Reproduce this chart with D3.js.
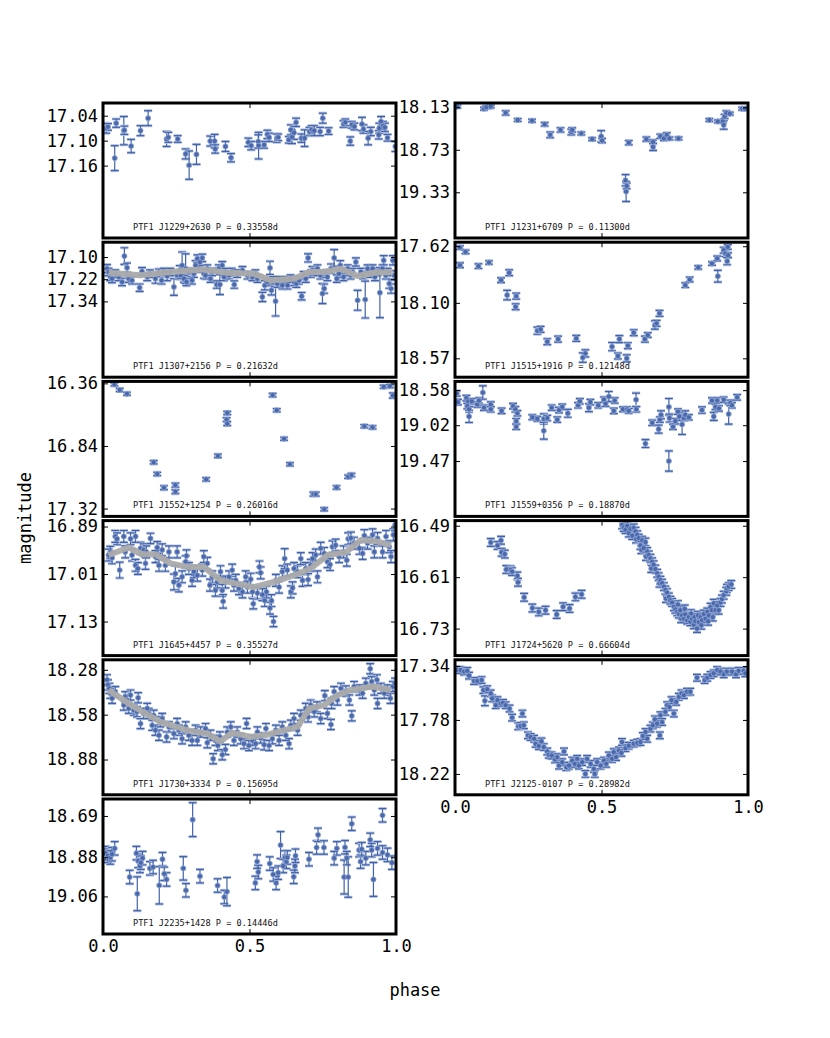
<!DOCTYPE html>
<html>
<head>
<meta charset="utf-8">
<script src="https://d3js.org/d3.v7.min.js"></script>
<style>
  body { margin: 0; background: #fff; }
  svg { display: block; background: #fff; }
  text { font-family: "DejaVu Sans Mono", monospace; fill: #000; }
  .note { font-size: 8.6px; fill: #111; }
  .err { stroke: #4263a8; stroke-width: 1.2; }
  .cap-halo { stroke: #b3c1e2; stroke-width: 3; }
  .pt { fill: #4a69ad; stroke: #95a9d4; stroke-width: 0.8; }
  .model { fill: none; stroke: #aaaaaa; stroke-width: 6; stroke-linejoin: round; opacity: 0.95; }
  .frame { fill: none; stroke: #000; stroke-width: 3; }
</style>
</head>
<body>
<div id="chart"></div>
<script>

// light curves: [phase, magnitude, error]
const j1229 = [[0.011,17.070,0.012],[0.017,17.067,0.008],[0.040,17.142,0.030],[0.045,17.058,0.010],[0.071,17.076,0.034],[0.073,17.075,0.010],[0.096,17.113,0.016],[0.128,17.076,0.012],[0.154,17.046,0.018],[0.217,17.096,0.018],[0.223,17.092,0.012],[0.255,17.096,0.008],[0.282,17.132,0.012],[0.294,17.159,0.034],[0.319,17.133,0.024],[0.366,17.101,0.012],[0.381,17.101,0.016],[0.383,17.120,0.010],[0.418,17.114,0.012],[0.437,17.141,0.010],[0.496,17.104,0.010],[0.506,17.112,0.010],[0.530,17.102,0.016],[0.531,17.112,0.032],[0.550,17.110,0.008],[0.561,17.085,0.010],[0.567,17.092,0.010],[0.593,17.094,0.010],[0.598,17.092,0.008],[0.634,17.098,0.008],[0.641,17.074,0.012],[0.645,17.091,0.016],[0.652,17.081,0.016],[0.659,17.056,0.010],[0.677,17.094,0.010],[0.688,17.094,0.020],[0.705,17.078,0.010],[0.712,17.074,0.010],[0.721,17.076,0.012],[0.741,17.078,0.010],[0.750,17.046,0.012],[0.770,17.077,0.008],[0.821,17.060,0.008],[0.827,17.056,0.008],[0.844,17.101,0.010],[0.849,17.062,0.008],[0.858,17.066,0.008],[0.884,17.060,0.016],[0.889,17.072,0.010],[0.905,17.094,0.016],[0.914,17.078,0.010],[0.941,17.086,0.010],[0.943,17.070,0.012],[0.949,17.054,0.012],[0.956,17.064,0.010],[0.962,17.068,0.010],[0.971,17.093,0.008],[0.998,17.114,0.012]];

const j1231 = [[0.008,18.12,0.02],[0.099,18.15,0.02],[0.107,18.13,0.02],[0.122,18.12,0.02],[0.173,18.21,0.03],[0.214,18.31,0.02],[0.263,18.32,0.02],[0.306,18.37,0.025],[0.325,18.52,0.04],[0.360,18.45,0.03],[0.397,18.48,0.04],[0.400,18.45,0.03],[0.431,18.50,0.02],[0.468,18.58,0.02],[0.499,18.54,0.08],[0.502,18.60,0.03],[0.582,19.16,0.08],[0.586,19.24,0.04],[0.584,19.32,0.14],[0.593,18.63,0.03],[0.653,18.58,0.03],[0.676,18.62,0.03],[0.676,18.69,0.05],[0.701,18.54,0.03],[0.713,18.57,0.03],[0.723,18.52,0.03],[0.732,18.57,0.02],[0.763,18.57,0.02],[0.868,18.31,0.02],[0.897,18.33,0.02],[0.914,18.33,0.02],[0.917,18.38,0.06],[0.920,18.26,0.03],[0.926,18.21,0.03],[0.938,18.22,0.02],[0.980,18.15,0.02],[0.989,18.15,0.02]];

const j1307 = [[0.014,17.163,0.022],[0.019,17.181,0.02],[0.025,17.208,0.02],[0.031,17.217,0.022],[0.042,17.190,0.02],[0.054,17.208,0.02],[0.065,17.235,0.02],[0.073,17.095,0.045],[0.082,17.158,0.025],[0.088,17.217,0.02],[0.099,17.226,0.02],[0.125,17.266,0.02],[0.133,17.177,0.02],[0.151,17.208,0.02],[0.160,17.190,0.02],[0.179,17.217,0.025],[0.190,17.185,0.02],[0.200,17.226,0.02],[0.208,17.181,0.02],[0.219,17.203,0.025],[0.230,17.181,0.02],[0.242,17.262,0.045],[0.253,17.199,0.02],[0.262,17.172,0.025],[0.265,17.199,0.02],[0.270,17.145,0.072],[0.276,17.217,0.02],[0.282,17.163,0.08],[0.285,17.235,0.02],[0.293,17.181,0.02],[0.304,17.226,0.02],[0.310,17.190,0.02],[0.316,17.145,0.025],[0.322,17.109,0.02],[0.327,17.163,0.02],[0.331,17.127,0.02],[0.339,17.105,0.02],[0.344,17.190,0.025],[0.350,17.199,0.02],[0.356,17.163,0.02],[0.367,17.217,0.02],[0.372,17.181,0.02],[0.388,17.249,0.02],[0.395,17.163,0.02],[0.399,17.249,0.054],[0.407,17.145,0.02],[0.413,17.208,0.02],[0.418,17.181,0.02],[0.430,17.199,0.02],[0.440,17.181,0.02],[0.448,17.249,0.02],[0.458,17.190,0.02],[0.476,17.172,0.02],[0.493,17.199,0.02],[0.510,17.208,0.02],[0.520,17.190,0.02],[0.527,17.217,0.02],[0.544,17.316,0.025],[0.552,17.253,0.025],[0.561,17.235,0.02],[0.570,17.159,0.036],[0.575,17.280,0.025],[0.580,17.226,0.02],[0.589,17.339,0.08],[0.595,17.244,0.02],[0.601,17.226,0.02],[0.612,17.253,0.02],[0.620,17.226,0.02],[0.630,17.253,0.02],[0.640,17.217,0.02],[0.652,17.235,0.02],[0.660,17.244,0.02],[0.669,17.226,0.02],[0.678,17.312,0.02],[0.685,17.199,0.02],[0.692,17.217,0.02],[0.700,17.105,0.022],[0.710,17.190,0.02],[0.715,17.172,0.02],[0.722,17.181,0.02],[0.732,17.163,0.02],[0.742,17.199,0.02],[0.749,17.298,0.054],[0.755,17.271,0.025],[0.760,17.190,0.02],[0.766,17.208,0.02],[0.778,17.163,0.025],[0.789,17.105,0.045],[0.798,17.217,0.02],[0.805,17.190,0.02],[0.810,17.145,0.025],[0.821,17.208,0.02],[0.828,17.181,0.02],[0.835,17.163,0.02],[0.845,17.199,0.02],[0.852,17.181,0.02],[0.863,17.127,0.022],[0.869,17.334,0.054],[0.880,17.181,0.02],[0.888,17.199,0.02],[0.895,17.330,0.1],[0.903,17.163,0.02],[0.912,17.190,0.02],[0.920,17.163,0.02],[0.928,17.208,0.02],[0.937,17.181,0.02],[0.945,17.293,0.135],[0.954,17.163,0.02],[0.958,17.118,0.025],[0.965,17.199,0.02],[0.971,17.181,0.02],[0.977,17.244,0.025],[0.983,17.271,0.025],[0.989,17.118,0.025],[0.994,17.199,0.025]];
const j1307Model = [[0.019,17.185],[0.128,17.199],[0.230,17.181],[0.339,17.167],[0.424,17.185],[0.515,17.190],[0.572,17.226],[0.652,17.217],[0.704,17.181],[0.755,17.181],[0.812,17.163],[0.869,17.203],[0.926,17.185],[0.989,17.181]];

const j1515 = [[0.017,17.631,0.015],[0.036,17.668,0.015],[0.017,17.781,0.02],[0.080,17.789,0.02],[0.116,17.758,0.015],[0.157,17.908,0.02],[0.185,17.845,0.025],[0.178,18.034,0.04],[0.209,18.043,0.025],[0.207,18.133,0.025],[0.281,18.336,0.03],[0.292,18.325,0.025],[0.315,18.429,0.025],[0.352,18.407,0.025],[0.414,18.401,0.025],[0.436,18.564,0.04],[0.445,18.528,0.03],[0.536,18.471,0.035],[0.556,18.550,0.025],[0.561,18.407,0.03],[0.586,18.570,0.03],[0.590,18.463,0.025],[0.610,18.353,0.025],[0.648,18.407,0.025],[0.658,18.373,0.02],[0.682,18.288,0.035],[0.688,18.274,0.025],[0.698,18.189,0.025],[0.786,17.950,0.02],[0.801,17.902,0.02],[0.830,17.800,0.015],[0.877,17.767,0.015],[0.895,17.724,0.02],[0.897,17.874,0.05],[0.917,17.654,0.025],[0.923,17.682,0.025],[0.929,17.747,0.03],[0.931,17.626,0.02],[0.932,17.696,0.02]];

const j1552 = [[0.039,16.368,0.012],[0.057,16.411,0.012],[0.082,16.440,0.012],[0.173,16.965,0.013],[0.185,17.055,0.013],[0.208,17.160,0.015],[0.247,17.140,0.015],[0.247,17.191,0.015],[0.352,17.096,0.013],[0.392,16.916,0.013],[0.424,16.587,0.012],[0.422,16.638,0.015],[0.424,16.669,0.015],[0.579,16.450,0.013],[0.593,16.566,0.012],[0.618,16.785,0.012],[0.638,16.980,0.012],[0.718,17.209,0.015],[0.726,17.209,0.015],[0.755,17.325,0.012],[0.797,17.158,0.013],[0.837,17.076,0.013],[0.848,17.063,0.013],[0.892,16.689,0.012],[0.920,16.697,0.012],[0.958,16.386,0.012],[0.979,16.381,0.012],[0.989,16.453,0.02]];

const j1559 = [[0.006,18.62,0.034],[0.010,18.73,0.034],[0.039,18.68,0.034],[0.045,18.72,0.034],[0.042,18.78,0.034],[0.048,18.82,0.034],[0.048,18.91,0.076],[0.057,18.72,0.034],[0.076,18.76,0.034],[0.082,18.71,0.034],[0.095,18.61,0.084],[0.099,18.80,0.034],[0.122,18.76,0.034],[0.122,18.82,0.034],[0.159,18.84,0.034],[0.198,18.78,0.034],[0.206,18.82,0.034],[0.209,18.97,0.034],[0.209,19.04,0.034],[0.213,18.87,0.034],[0.264,18.92,0.03],[0.281,18.94,0.03],[0.303,18.94,0.063],[0.303,19.09,0.105],[0.315,18.93,0.034],[0.330,18.80,0.034],[0.349,18.95,0.034],[0.355,18.83,0.034],[0.366,18.79,0.034],[0.385,18.87,0.05],[0.420,18.77,0.034],[0.426,18.72,0.034],[0.457,18.80,0.05],[0.462,18.73,0.034],[0.489,18.77,0.034],[0.508,18.70,0.034],[0.514,18.75,0.034],[0.525,18.66,0.063],[0.542,18.84,0.034],[0.545,18.71,0.034],[0.573,18.82,0.03],[0.588,18.82,0.03],[0.593,18.84,0.03],[0.618,18.70,0.084],[0.619,18.82,0.034],[0.650,19.25,0.05],[0.673,18.99,0.034],[0.695,19.07,0.05],[0.699,18.95,0.034],[0.703,18.89,0.05],[0.730,18.79,0.105],[0.730,19.47,0.127],[0.732,18.93,0.05],[0.744,19.04,0.034],[0.752,18.97,0.034],[0.761,18.85,0.034],[0.766,18.91,0.05],[0.775,19.01,0.127],[0.781,18.93,0.034],[0.786,18.89,0.05],[0.798,18.92,0.034],[0.843,18.83,0.04],[0.877,18.71,0.034],[0.883,18.91,0.05],[0.889,18.79,0.034],[0.895,18.71,0.034],[0.901,18.81,0.034],[0.917,18.70,0.034],[0.934,18.88,0.127],[0.940,18.74,0.034],[0.945,18.77,0.034],[0.963,18.67,0.034]];

const j1645 = [[0.019,16.962,0.015],[0.025,16.955,0.015],[0.031,16.969,0.015],[0.042,16.915,0.015],[0.048,16.921,0.015],[0.057,17.000,0.02],[0.071,16.915,0.015],[0.076,16.954,0.015],[0.094,16.921,0.015],[0.099,16.962,0.015],[0.111,16.915,0.015],[0.111,16.988,0.015],[0.119,16.996,0.015],[0.128,16.945,0.015],[0.139,16.949,0.015],[0.145,16.983,0.015],[0.148,16.954,0.015],[0.162,16.920,0.013],[0.179,16.966,0.015],[0.185,16.943,0.015],[0.191,16.988,0.015],[0.202,16.949,0.015],[0.213,16.988,0.015],[0.225,16.954,0.015],[0.242,17.030,0.02],[0.247,17.009,0.02],[0.253,16.954,0.015],[0.259,17.038,0.017],[0.270,17.017,0.015],[0.282,16.979,0.015],[0.285,16.964,0.015],[0.293,16.996,0.015],[0.304,17.026,0.015],[0.310,17.004,0.015],[0.322,17.013,0.015],[0.339,17.000,0.015],[0.344,16.966,0.015],[0.356,16.983,0.015],[0.365,17.038,0.015],[0.373,17.017,0.015],[0.384,17.051,0.015],[0.390,17.030,0.015],[0.401,17.004,0.015],[0.407,17.051,0.015],[0.410,17.079,0.017],[0.418,17.030,0.015],[0.430,17.017,0.015],[0.441,17.000,0.015],[0.447,17.038,0.015],[0.453,17.026,0.015],[0.464,17.047,0.015],[0.476,17.055,0.015],[0.487,17.017,0.015],[0.493,17.043,0.015],[0.504,17.023,0.015],[0.510,17.055,0.015],[0.513,17.085,0.013],[0.527,17.058,0.015],[0.534,16.992,0.015],[0.538,17.007,0.015],[0.544,17.062,0.015],[0.552,17.077,0.015],[0.558,17.055,0.015],[0.570,17.096,0.015],[0.575,17.077,0.015],[0.582,17.130,0.013],[0.590,17.026,0.015],[0.601,17.043,0.015],[0.612,17.004,0.015],[0.620,16.971,0.025],[0.629,17.000,0.015],[0.641,17.055,0.015],[0.647,17.045,0.015],[0.652,16.996,0.015],[0.664,17.004,0.015],[0.675,16.971,0.015],[0.681,17.026,0.015],[0.692,16.996,0.015],[0.700,17.024,0.015],[0.709,16.988,0.015],[0.715,16.971,0.015],[0.726,16.962,0.015],[0.732,17.017,0.015],[0.743,16.945,0.015],[0.755,16.958,0.015],[0.766,16.979,0.015],[0.775,16.986,0.015],[0.783,16.941,0.015],[0.794,16.937,0.015],[0.806,16.966,0.015],[0.821,16.954,0.015],[0.832,16.975,0.015],[0.837,16.921,0.015],[0.846,16.919,0.015],[0.857,16.932,0.015],[0.875,16.945,0.015],[0.886,16.958,0.015],[0.892,16.913,0.015],[0.903,16.932,0.015],[0.920,16.911,0.015],[0.926,16.954,0.015],[0.937,16.920,0.015],[0.954,16.954,0.015],[0.966,16.915,0.015],[0.977,16.941,0.015],[0.983,16.966,0.015],[0.991,16.911,0.015],[0.997,16.886,0.015]];
const j1645Model = [[0.019,16.962],[0.088,16.943],[0.133,16.960],[0.179,16.960],[0.230,16.983],[0.287,16.992],[0.344,16.992],[0.401,17.026],[0.515,17.043],[0.584,17.030],[0.652,17.013],[0.709,16.996],[0.766,16.962],[0.829,16.955],[0.880,16.924],[0.937,16.928],[0.983,16.937]];

const j1724 = [[0.122,16.529,0.009],[0.145,16.536,0.009],[0.157,16.524,0.009],[0.159,16.552,0.009],[0.170,16.556,0.009],[0.175,16.592,0.009],[0.190,16.593,0.009],[0.195,16.597,0.009],[0.213,16.607,0.009],[0.215,16.622,0.009],[0.236,16.657,0.009],[0.264,16.682,0.009],[0.286,16.691,0.009],[0.309,16.687,0.009],[0.347,16.697,0.009],[0.369,16.679,0.009],[0.391,16.683,0.009],[0.411,16.656,0.009],[0.432,16.650,0.009],[0.570,16.488,0.009],[0.576,16.494,0.009],[0.582,16.499,0.009],[0.588,16.490,0.009],[0.593,16.507,0.009],[0.599,16.497,0.009],[0.605,16.513,0.009],[0.610,16.495,0.009],[0.616,16.503,0.009],[0.618,16.521,0.009],[0.622,16.511,0.009],[0.627,16.519,0.009],[0.633,16.536,0.009],[0.636,16.546,0.009],[0.639,16.524,0.009],[0.644,16.542,0.009],[0.650,16.528,0.009],[0.652,16.562,0.009],[0.656,16.550,0.009],[0.661,16.558,0.009],[0.667,16.566,0.009],[0.670,16.590,0.009],[0.673,16.574,0.009],[0.678,16.581,0.009],[0.684,16.591,0.009],[0.690,16.601,0.009],[0.695,16.609,0.009],[0.698,16.624,0.009],[0.701,16.617,0.009],[0.707,16.624,0.009],[0.713,16.632,0.009],[0.718,16.640,0.009],[0.720,16.660,0.009],[0.724,16.646,0.009],[0.730,16.656,0.009],[0.735,16.664,0.009],[0.741,16.669,0.009],[0.747,16.679,0.009],[0.752,16.685,0.009],[0.758,16.691,0.009],[0.761,16.674,0.009],[0.764,16.696,0.009],[0.769,16.687,0.009],[0.772,16.707,0.009],[0.775,16.699,0.009],[0.781,16.707,0.009],[0.784,16.684,0.009],[0.786,16.697,0.009],[0.792,16.710,0.009],[0.798,16.703,0.009],[0.803,16.714,0.009],[0.806,16.695,0.009],[0.809,16.707,0.009],[0.815,16.721,0.009],[0.817,16.703,0.009],[0.820,16.713,0.009],[0.826,16.730,0.009],[0.829,16.699,0.009],[0.832,16.715,0.009],[0.838,16.703,0.009],[0.841,16.722,0.009],[0.843,16.710,0.009],[0.849,16.696,0.009],[0.855,16.707,0.009],[0.861,16.691,0.009],[0.864,16.713,0.009],[0.866,16.699,0.009],[0.872,16.680,0.009],[0.877,16.687,0.009],[0.880,16.703,0.009],[0.883,16.671,0.009],[0.889,16.687,0.009],[0.895,16.676,0.009],[0.900,16.687,0.009],[0.906,16.669,0.009],[0.911,16.661,0.009],[0.917,16.652,0.009],[0.926,16.643,0.009],[0.928,16.636,0.009],[0.934,16.632,0.009],[0.943,16.627,0.009]];

const j1730 = [[0.014,18.347,0.034],[0.017,18.381,0.034],[0.022,18.404,0.034],[0.025,18.437,0.034],[0.031,18.471,0.034],[0.042,18.426,0.034],[0.071,18.516,0.034],[0.076,18.460,0.034],[0.082,18.482,0.034],[0.088,18.538,0.034],[0.094,18.449,0.034],[0.105,18.550,0.034],[0.116,18.561,0.034],[0.120,18.467,0.034],[0.128,18.640,0.034],[0.139,18.572,0.034],[0.151,18.538,0.034],[0.156,18.572,0.034],[0.168,18.651,0.034],[0.173,18.584,0.034],[0.179,18.684,0.034],[0.191,18.718,0.034],[0.196,18.628,0.034],[0.202,18.606,0.034],[0.217,18.729,0.034],[0.225,18.662,0.034],[0.242,18.707,0.034],[0.253,18.639,0.034],[0.259,18.684,0.034],[0.270,18.741,0.034],[0.282,18.662,0.034],[0.293,18.718,0.034],[0.304,18.752,0.034],[0.316,18.684,0.034],[0.322,18.752,0.034],[0.333,18.696,0.034],[0.350,18.673,0.034],[0.356,18.768,0.034],[0.367,18.718,0.034],[0.376,18.875,0.034],[0.384,18.752,0.034],[0.392,18.786,0.034],[0.399,18.729,0.034],[0.407,18.848,0.034],[0.418,18.813,0.034],[0.424,18.696,0.034],[0.436,18.662,0.034],[0.447,18.752,0.034],[0.458,18.696,0.034],[0.470,18.741,0.034],[0.481,18.774,0.034],[0.490,18.639,0.034],[0.498,18.786,0.034],[0.510,18.752,0.034],[0.521,18.774,0.034],[0.527,18.696,0.034],[0.538,18.736,0.034],[0.550,18.781,0.034],[0.556,18.673,0.034],[0.567,18.786,0.034],[0.578,18.741,0.034],[0.590,18.684,0.034],[0.601,18.752,0.034],[0.612,18.662,0.034],[0.624,18.718,0.034],[0.635,18.774,0.034],[0.641,18.651,0.034],[0.652,18.606,0.034],[0.664,18.684,0.034],[0.675,18.584,0.034],[0.692,18.538,0.034],[0.700,18.595,0.034],[0.709,18.516,0.034],[0.721,18.561,0.034],[0.730,18.528,0.034],[0.743,18.606,0.034],[0.757,18.453,0.034],[0.766,18.572,0.034],[0.778,18.646,0.034],[0.780,18.505,0.034],[0.789,18.426,0.034],[0.800,18.482,0.034],[0.812,18.404,0.034],[0.829,18.422,0.034],[0.841,18.482,0.034],[0.849,18.588,0.034],[0.857,18.392,0.034],[0.875,18.415,0.034],[0.886,18.437,0.034],[0.897,18.370,0.034],[0.912,18.273,0.034],[0.917,18.359,0.034],[0.926,18.415,0.034],[0.935,18.347,0.034],[0.937,18.505,0.034],[0.949,18.404,0.034],[0.960,18.437,0.034],[0.971,18.415,0.034],[0.981,18.471,0.034],[0.989,18.392,0.034],[0.997,18.370,0.034]];
const j1730Model = [[0.019,18.415],[0.105,18.527],[0.196,18.628],[0.287,18.684],[0.356,18.707],[0.401,18.759],[0.441,18.700],[0.504,18.729],[0.561,18.714],[0.618,18.684],[0.664,18.662],[0.704,18.538],[0.755,18.516],[0.800,18.450],[0.846,18.415],[0.920,18.392],[0.983,18.415]];

const j2125 = [[0.008,17.373,0.027],[0.019,17.373,0.027],[0.031,17.386,0.027],[0.042,17.380,0.027],[0.048,17.419,0.027],[0.065,17.463,0.027],[0.076,17.463,0.027],[0.091,17.455,0.027],[0.097,17.537,0.027],[0.102,17.624,0.04],[0.110,17.530,0.027],[0.122,17.564,0.027],[0.127,17.605,0.027],[0.139,17.660,0.027],[0.145,17.619,0.027],[0.156,17.646,0.027],[0.164,17.641,0.027],[0.173,17.660,0.027],[0.186,17.687,0.027],[0.195,17.761,0.027],[0.216,17.832,0.027],[0.224,17.829,0.027],[0.230,17.728,0.027],[0.235,17.824,0.027],[0.249,17.906,0.027],[0.258,17.919,0.027],[0.270,17.933,0.027],[0.275,17.974,0.027],[0.286,17.993,0.027],[0.295,17.955,0.027],[0.303,18.001,0.027],[0.315,18.037,0.027],[0.320,18.064,0.027],[0.330,18.070,0.027],[0.341,18.102,0.027],[0.349,18.083,0.027],[0.355,18.152,0.027],[0.366,18.124,0.027],[0.372,18.037,0.027],[0.380,18.165,0.027],[0.389,18.152,0.027],[0.400,18.111,0.027],[0.409,18.138,0.027],[0.417,18.097,0.027],[0.423,18.152,0.027],[0.434,18.124,0.027],[0.445,18.220,0.027],[0.451,18.097,0.027],[0.463,18.138,0.027],[0.474,18.179,0.027],[0.477,18.220,0.027],[0.485,18.124,0.027],[0.497,18.152,0.027],[0.508,18.111,0.027],[0.516,18.138,0.027],[0.525,18.070,0.027],[0.536,18.097,0.027],[0.542,18.042,0.027],[0.550,18.083,0.027],[0.559,18.029,0.027],[0.568,18.048,0.027],[0.570,17.960,0.027],[0.582,18.010,0.027],[0.593,17.990,0.027],[0.610,17.974,0.027],[0.622,17.966,0.027],[0.633,17.960,0.027],[0.641,17.911,0.027],[0.650,17.878,0.027],[0.656,17.933,0.027],[0.667,17.851,0.027],[0.675,17.824,0.027],[0.682,17.775,0.027],[0.690,17.810,0.027],[0.699,17.906,0.027],[0.701,17.742,0.027],[0.707,17.797,0.027],[0.718,17.714,0.027],[0.724,17.660,0.027],[0.732,17.674,0.027],[0.739,17.619,0.027],[0.747,17.728,0.027],[0.755,17.633,0.027],[0.764,17.591,0.027],[0.773,17.564,0.027],[0.781,17.578,0.027],[0.792,17.550,0.027],[0.803,17.550,0.027],[0.826,17.436,0.027],[0.852,17.455,0.027],[0.861,17.436,0.027],[0.872,17.414,0.027],[0.883,17.400,0.027],[0.895,17.373,0.027],[0.906,17.386,0.027],[0.917,17.408,0.027],[0.928,17.386,0.027],[0.945,17.386,0.027],[0.959,17.408,0.027],[0.968,17.380,0.027],[0.985,17.380,0.027],[0.991,17.400,0.027]];

const j2235 = [[0.009,18.861,0.031],[0.017,18.873,0.031],[0.025,18.881,0.031],[0.031,18.866,0.031],[0.040,18.839,0.031],[0.091,18.971,0.031],[0.114,18.861,0.031],[0.117,19.048,0.078],[0.120,18.897,0.031],[0.126,18.920,0.031],[0.129,18.905,0.031],[0.135,18.884,0.031],[0.160,18.931,0.031],[0.171,18.925,0.031],[0.192,19.009,0.086],[0.203,18.889,0.031],[0.209,18.956,0.031],[0.217,18.982,0.031],[0.274,18.931,0.054],[0.283,19.032,0.031],[0.306,18.707,0.078],[0.331,18.967,0.031],[0.391,19.010,0.031],[0.414,19.063,0.031],[0.423,19.038,0.065],[0.520,18.998,0.031],[0.526,18.900,0.031],[0.530,18.948,0.031],[0.569,18.909,0.031],[0.581,18.959,0.031],[0.591,18.998,0.031],[0.598,18.951,0.031],[0.606,18.824,0.062],[0.615,18.920,0.031],[0.621,18.881,0.031],[0.626,18.901,0.031],[0.629,18.881,0.031],[0.651,18.970,0.031],[0.655,18.920,0.031],[0.657,18.873,0.031],[0.703,18.889,0.031],[0.729,18.835,0.031],[0.734,18.777,0.031],[0.754,18.835,0.031],[0.789,18.884,0.031],[0.798,18.839,0.031],[0.823,18.971,0.078],[0.826,18.834,0.031],[0.832,18.884,0.031],[0.837,18.971,0.093],[0.849,18.726,0.031],[0.874,18.847,0.031],[0.879,18.900,0.031],[0.883,18.843,0.031],[0.897,18.884,0.031],[0.912,18.800,0.031],[0.917,18.847,0.031],[0.923,18.982,0.078],[0.937,18.839,0.031],[0.954,18.687,0.031],[0.954,18.858,0.031],[0.971,18.869,0.031],[0.986,18.905,0.031]];

// tick labels per panel
const ticks1229 = ["17.04", "17.10", "17.16"];
const ticks1231 = ["18.13", "18.73", "19.33"];
const ticks1307 = ["17.10", "17.22", "17.34"];
const ticks1515 = ["17.62", "18.10", "18.57"];
const ticks1552 = ["16.36", "16.84", "17.32"];
const ticks1559 = ["18.58", "19.02", "19.47"];
const ticks1645 = ["16.89", "17.01", "17.13"];
const ticks1724 = ["16.49", "16.61", "16.73"];
const ticks1730 = ["18.28", "18.58", "18.88"];
const ticks2125 = ["17.34", "17.78", "18.22"];
const ticks2235 = ["18.69", "18.88", "19.06"];
const phaseTicks = ["0.0", "0.5", "1.0"];

// magnitude limits (top, bottom) — axis is inverted
const lim1229 = [17.0095, 17.334];
const lim1231 = [18.07, 19.975];
const lim1307 = [17.02, 17.75];
const lim1515 = [17.586, 18.73];
const lim1552 = [16.345, 17.38];
const lim1559 = [18.47, 20.165];
const lim1645 = [16.875, 17.216];
const lim1724 = [16.478, 16.793];
const lim1730 = [18.213, 19.116];
const lim2125 = [17.29, 18.39];
const lim2235 = [18.612, 19.233];

const panels = [
    {id: "J1229+2630", period: "0.33558", col: 0, row: 0, data: j1229, ticks: ticks1229, lim: lim1229},
    {id: "J1231+6709", period: "0.11300", col: 1, row: 0, data: j1231, ticks: ticks1231, lim: lim1231},
    {id: "J1307+2156", period: "0.21632", col: 0, row: 1, data: j1307, ticks: ticks1307, lim: lim1307, model: j1307Model},
    {id: "J1515+1916", period: "0.12148", col: 1, row: 1, data: j1515, ticks: ticks1515, lim: lim1515},
    {id: "J1552+1254", period: "0.26016", col: 0, row: 2, data: j1552, ticks: ticks1552, lim: lim1552},
    {id: "J1559+0356", period: "0.18870", col: 1, row: 2, data: j1559, ticks: ticks1559, lim: lim1559},
    {id: "J1645+4457", period: "0.35527", col: 0, row: 3, data: j1645, ticks: ticks1645, lim: lim1645, model: j1645Model},
    {id: "J1724+5620", period: "0.66604", col: 1, row: 3, data: j1724, ticks: ticks1724, lim: lim1724},
    {id: "J1730+3334", period: "0.15695", col: 0, row: 4, data: j1730, ticks: ticks1730, lim: lim1730, model: j1730Model},
    {id: "J2125-0107", period: "0.28982", col: 1, row: 4, data: j2125, ticks: ticks2125, lim: lim2125, bottom: true},
    {id: "J2235+1428", period: "0.14446", col: 0, row: 5, data: j2235, ticks: ticks2235, lim: lim2235, bottom: true}
];

const W = 830, H = 1038;
const colX = [103, 455], panelW = 293, panelH = 135, top0 = 103, rowStep = 139.2;

const svg = d3.select("#chart").append("svg")
    .attr("width", W)
    .attr("height", H);

const fixText = sel => sel.selectAll("text")
    .attr("font-family", "DejaVu Sans Mono, monospace")
    .attr("font-size", 17)
    .attr("fill", "#000");

panels.forEach((p, i) => {
    const x0 = colX[p.col], y0 = top0 + p.row * rowStep;
    const x = d3.scaleLinear().domain([0, 1]).range([x0, x0 + panelW]);
    const y = d3.scaleLinear().domain(p.lim).range([y0, y0 + panelH]);

    const g = svg.append("g").attr("class", "panel");

    g.append("clipPath").attr("id", "clip" + i)
        .append("rect").attr("x", x0).attr("y", y0).attr("width", panelW).attr("height", panelH);

    g.append("rect").attr("x", x0).attr("y", y0).attr("width", panelW).attr("height", panelH).attr("fill", "#fff");

    const plot = g.append("g").attr("clip-path", "url(#clip" + i + ")");

    // error bars with caps
    const eb = plot.selectAll(".eb").data(p.data).join("g").attr("class", "eb");
    eb.append("line").attr("class", "cap-halo")
        .attr("x1", d => x(d[0]) - 4).attr("x2", d => x(d[0]) + 4)
        .attr("y1", d => y(d[1] - d[2])).attr("y2", d => y(d[1] - d[2]));
    eb.append("line").attr("class", "cap-halo")
        .attr("x1", d => x(d[0]) - 4).attr("x2", d => x(d[0]) + 4)
        .attr("y1", d => y(d[1] + d[2])).attr("y2", d => y(d[1] + d[2]));
    eb.append("line").attr("class", "err")
        .attr("x1", d => x(d[0])).attr("x2", d => x(d[0]))
        .attr("y1", d => y(d[1] - d[2])).attr("y2", d => y(d[1] + d[2]));
    eb.append("line").attr("class", "err")
        .attr("x1", d => x(d[0]) - 4).attr("x2", d => x(d[0]) + 4)
        .attr("y1", d => y(d[1] - d[2])).attr("y2", d => y(d[1] - d[2]));
    eb.append("line").attr("class", "err")
        .attr("x1", d => x(d[0]) - 4).attr("x2", d => x(d[0]) + 4)
        .attr("y1", d => y(d[1] + d[2])).attr("y2", d => y(d[1] + d[2]));

    plot.selectAll(".pt").data(p.data).join("circle").attr("class", "pt")
        .attr("cx", d => x(d[0])).attr("cy", d => y(d[1])).attr("r", 2.6);

    if (p.model) {
        const line = d3.line().x(d => x(d[0])).y(d => y(d[1]));
        plot.append("path").attr("class", "model").attr("d", line(p.model));
    }

    const yTicks = p.ticks.map(Number);

    g.append("g")
        .attr("transform", "translate(" + x0 + ",0)")
        .call(d3.axisLeft(y).tickValues(yTicks).tickSizeInner(-5).tickSizeOuter(0).tickPadding(5)
            .tickFormat((d, k) => p.ticks[k]))
        .call(a => a.select(".domain").remove())
        .call(a => a.selectAll("line").attr("stroke", "#000"))
        .call(fixText);

    g.append("g")
        .attr("transform", "translate(" + (x0 + panelW) + ",0)")
        .call(d3.axisRight(y).tickValues(yTicks).tickSizeInner(-5).tickSizeOuter(0).tickFormat(""))
        .call(a => a.select(".domain").remove());

    g.append("g")
        .attr("transform", "translate(0," + y0 + ")")
        .call(d3.axisTop(x).tickValues([0.5]).tickSizeInner(-5).tickSizeOuter(0).tickFormat(""))
        .call(a => a.select(".domain").remove());

    g.append("g")
        .attr("transform", "translate(0," + (y0 + panelH) + ")")
        .call(d3.axisBottom(x).tickValues(phaseTicks.map(Number)).tickSizeInner(-5).tickSizeOuter(0).tickPadding(6)
            .tickFormat((d, k) => p.bottom ? phaseTicks[k] : ""))
        .call(a => a.select(".domain").remove())
        .call(fixText);

    g.append("text").attr("class", "note")
        .attr("x", x0 + 30).attr("y", y0 + panelH - 8)
        .text("PTF1 " + p.id + " P = " + p.period + "d");

    g.append("rect").attr("class", "frame")
        .attr("x", x0).attr("y", y0).attr("width", panelW).attr("height", panelH);
});

svg.append("text")
    .attr("transform", "translate(31,518) rotate(-90)")
    .attr("text-anchor", "middle")
    .attr("font-size", 17)
    .text("magnitude");

svg.append("text")
    .attr("x", 415).attr("y", 996)
    .attr("text-anchor", "middle")
    .attr("font-size", 17)
    .text("phase");

</script>
</body>
</html>
